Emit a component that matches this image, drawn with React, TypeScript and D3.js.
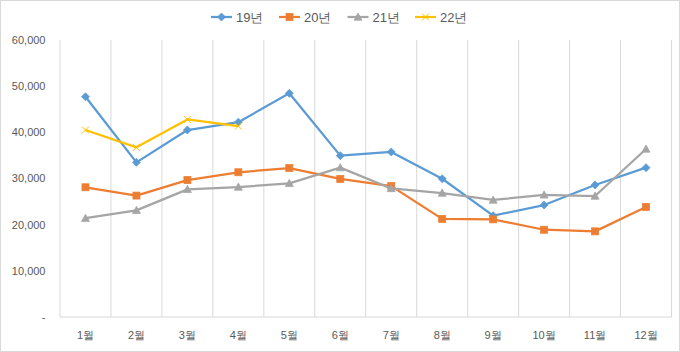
import React from "react";
import * as d3 from "d3";

const months = ["1월", "2월", "3월", "4월", "5월", "6월", "7월", "8월", "9월", "10월", "11월", "12월"];
const y19 = [47700, 33500, 40500, 42200, 48450, 34950, 35750, 29950, 21950, 24250, 28600, 32350];
const y20 = [28100, 26300, 29650, 31350, 32250, 29900, 28350, 21250, 21150, 18900, 18550, 23850];
const y21 = [21400, 23100, 27650, 28150, 28950, 32350, 27850, 26850, 25350, 26450, 26200, 36400];
const y22 = [40500, 36750, 42800, 41350];
const yTicks = [0, 10000, 20000, 30000, 40000, 50000, 60000];

const seriesNames = ["19년", "20년", "21년", "22년"];
const seriesColors = ["#5B9BD5", "#ED7D31", "#A5A5A5", "#FFC000"];
const seriesData = [y19, y20, y21, y22];
const markerKinds = ["diamond", "square", "triangle", "x"];

const W = 680, H = 352;
const left = 60, right = 671.5, top = 40, bottom = 317;

function Marker({ kind, x, y, color }: { kind: string; x: number; y: number; color: string }) {
  if (kind === "diamond") {
    const s = 4;
    return <path d={`M${x},${y - s}L${x + s},${y}L${x},${y + s}L${x - s},${y}Z`} fill={color} stroke={color} strokeWidth={0.75} />;
  }
  if (kind === "square") {
    const s = 3.5;
    return <rect x={x - s} y={y - s} width={2 * s} height={2 * s} fill={color} stroke={color} strokeWidth={0.75} />;
  }
  if (kind === "triangle") {
    const s = 4;
    return <path d={`M${x},${y - s}L${x + s},${y + s * 0.8}L${x - s},${y + s * 0.8}Z`} fill={color} stroke={color} strokeWidth={0.75} />;
  }
  const s = 3.5;
  return <path d={`M${x - s},${y - s}L${x + s},${y + s}M${x + s},${y - s}L${x - s},${y + s}`} stroke={color} strokeWidth={1} fill="none" />;
}

export default function App() {
  const x = d3.scaleBand<string>().domain(months).range([left, right]);
  const y = d3.scaleLinear().domain([0, 60000]).range([bottom, top]);
  const cx = (m: string) => (x(m) as number) + x.bandwidth() / 2;
  const line = (vals: number[]) =>
    d3.line<number>().x((_, i) => cx(months[i])).y((v) => y(v))(vals) as string;
  const fmt = (v: number) => (v === 0 ? "-" : d3.format(",")(v));
  const font = "Liberation Sans, Arial, sans-serif";
  const legendX = [211, 279, 347.5, 415];

  return (
    <svg width={W} height={H} style={{ position: "absolute", left: 0, top: 0 }} fontFamily={font}>
      <rect x={0.5} y={0.5} width={W - 1} height={H - 1} fill="#fff" stroke="#D9D9D9" />
      {months.map((m) => (
        <line key={"g" + m} x1={x(m)} x2={x(m)} y1={top} y2={bottom} stroke="#D9D9D9" strokeWidth={1} />
      ))}
      <line x1={right} x2={right} y1={top} y2={bottom} stroke="#D9D9D9" />
      <line x1={left} x2={right} y1={bottom} y2={bottom} stroke="#D9D9D9" />
      {yTicks.map((t) => (
        <text key={"y" + t} x={45.5} y={y(t)} dy="0.35em" textAnchor="end" fontSize={11} fill="#595959">
          {fmt(t)}
        </text>
      ))}
      {months.map((m) => (
        <text key={"x" + m} x={cx(m)} y={335} dy="0.35em" textAnchor="middle" fontSize={11} fill="#595959">
          {m}
        </text>
      ))}
      {seriesData.map((vals, si) => (
        <g key={"s" + si}>
          <path d={line(vals)} fill="none" stroke={seriesColors[si]} strokeWidth={2.25} strokeLinejoin="round" />
          {vals.map((v, i) => (
            <Marker key={i} kind={markerKinds[si]} x={cx(months[i])} y={y(v)} color={seriesColors[si]} />
          ))}
        </g>
      ))}
      {seriesNames.map((n, si) => (
        <g key={"l" + n}>
          <line x1={legendX[si]} x2={legendX[si] + 21} y1={17} y2={17} stroke={seriesColors[si]} strokeWidth={2.25} />
          <Marker kind={markerKinds[si]} x={legendX[si] + 10.5} y={17} color={seriesColors[si]} />
          <text x={legendX[si] + 25} y={17} dy="0.35em" fontSize={13} fill="#595959">
            {n}
          </text>
        </g>
      ))}
    </svg>
  );
}
